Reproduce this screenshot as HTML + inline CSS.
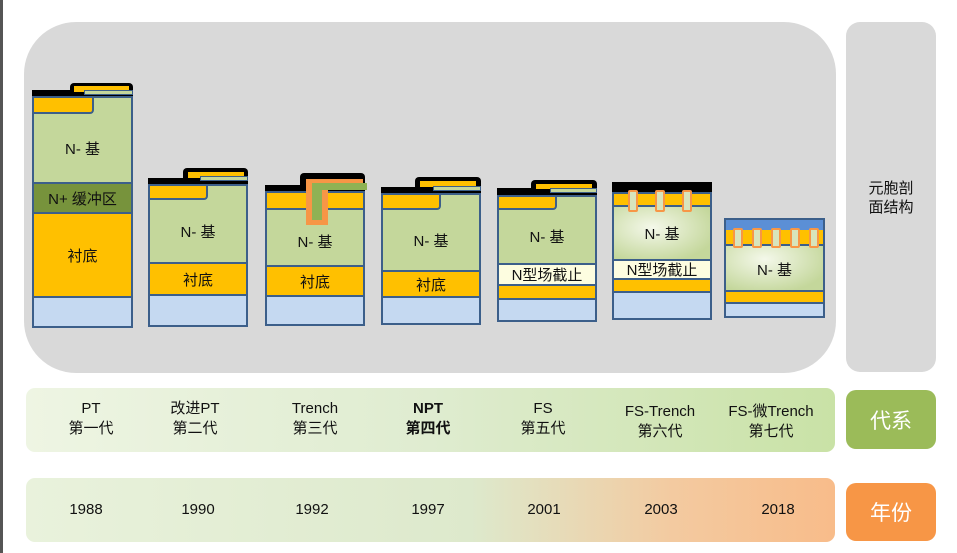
<!DOCTYPE html>
<html><head><meta charset="utf-8"><style>
*{margin:0;padding:0;box-sizing:border-box}
body{width:957px;height:553px;background:#fff;position:relative;overflow:hidden;font-family:"Liberation Sans","Noto Sans CJK SC",sans-serif;color:#111}
div{position:absolute}
.b{border:2px solid #3c5f8a;background:#c4d79b}
.y{background:#ffc000}
.g{background:#c4d79b}
.bl{background:#c5d9f1}
.k{background:#000}
.t{display:flex;align-items:center;justify-content:center;font-size:15px}
.lab{text-align:center;font-size:15px;line-height:20px;width:120px}
</style></head><body>
<div style="left:0;top:0;width:3px;height:553px;background:#555"></div>
<div style="left:24px;top:22px;width:812px;height:351px;background:#d9d9d9;border-radius:52px"></div>
<div style="left:846px;top:22px;width:90px;height:350px;background:#d9d9d9;border-radius:14px"></div>
<div class="t" style="left:846px;top:178px;width:90px;height:40px;font-size:15px;line-height:19px;text-align:center">元胞剖<br>面结构</div>

<!-- Cell 1 -->
<div class="k" style="left:32px;top:90px;width:101px;height:8px"></div>
<div class="k" style="left:70px;top:83px;width:63px;height:15px;border-radius:4px 4px 0 0"></div>
<div class="y" style="left:74px;top:86px;width:55px;height:6px"></div>
<div class="b" style="left:32px;top:96px;width:101px;height:232px"></div>
<div class="y" style="left:34px;top:98px;width:60px;height:16px;border:2px solid #3c5f8a;border-top:0;border-left:0;border-radius:0 0 4px 0"></div>
<div style="left:84px;top:90px;width:49px;height:5px;background:#c4d79b;border:1px solid #3c5f8a"></div>
<div class="t" style="left:34px;top:114px;width:97px;height:68px">N- 基</div>
<div class="t" style="left:34px;top:182px;width:97px;height:30px;background:#77933c;border-top:2px solid #3c5f8a">N+ 缓冲区</div>
<div class="y t" style="left:34px;top:212px;width:97px;height:84px;border-top:2px solid #3c5f8a">衬底</div>
<div class="bl" style="left:34px;top:296px;width:97px;height:30px;border-top:2px solid #3c5f8a"></div>

<!-- Cell 2 -->
<div class="k" style="left:148px;top:178px;width:100px;height:8px"></div>
<div class="k" style="left:183px;top:168px;width:65px;height:18px;border-radius:4px 4px 0 0"></div>
<div class="y" style="left:188px;top:172px;width:56px;height:6px"></div>
<div class="b" style="left:148px;top:184px;width:100px;height:143px"></div>
<div class="y" style="left:150px;top:186px;width:58px;height:14px;border:2px solid #3c5f8a;border-top:0;border-left:0;border-radius:0 0 4px 0"></div>
<div style="left:200px;top:176px;width:48px;height:5px;background:#c4d79b;border:1px solid #3c5f8a"></div>
<div class="t" style="left:150px;top:200px;width:96px;height:62px">N- 基</div>
<div class="y t" style="left:150px;top:262px;width:96px;height:32px;border-top:2px solid #3c5f8a">衬底</div>
<div class="bl" style="left:150px;top:294px;width:96px;height:31px;border-top:2px solid #3c5f8a"></div>

<!-- Cell 3 -->
<div class="k" style="left:265px;top:185px;width:100px;height:8px"></div>
<div class="k" style="left:300px;top:173px;width:65px;height:20px;border-radius:4px 4px 0 0"></div>
<div class="b" style="left:265px;top:191px;width:100px;height:135px"></div>
<div class="y" style="left:267px;top:193px;width:96px;height:15px"></div>
<div class="t" style="left:267px;top:208px;width:96px;height:57px;border-top:2px solid #3c5f8a;padding-top:8px">N- 基</div>
<div class="y t" style="left:267px;top:265px;width:96px;height:30px;border-top:2px solid #3c5f8a">衬底</div>
<div class="bl" style="left:267px;top:295px;width:96px;height:29px;border-top:2px solid #3c5f8a"></div>
<div style="left:306px;top:179px;width:57px;height:10px;background:#f79646"></div>
<div style="left:306px;top:179px;width:22px;height:46px;background:#f79646"></div>
<div style="left:312px;top:183px;width:10px;height:37px;background:#8fb254"></div>
<div style="left:312px;top:183px;width:55px;height:7px;background:#8fb254"></div>

<!-- Cell 4 -->
<div class="k" style="left:381px;top:187px;width:100px;height:8px"></div>
<div class="k" style="left:415px;top:177px;width:66px;height:18px;border-radius:4px 4px 0 0"></div>
<div class="y" style="left:420px;top:181px;width:56px;height:6px"></div>
<div class="b" style="left:381px;top:193px;width:100px;height:132px"></div>
<div class="y" style="left:383px;top:195px;width:58px;height:15px;border:2px solid #3c5f8a;border-top:0;border-left:0;border-radius:0 0 4px 0"></div>
<div style="left:433px;top:186px;width:48px;height:5px;background:#c4d79b;border:1px solid #3c5f8a"></div>
<div class="t" style="left:383px;top:210px;width:96px;height:60px">N- 基</div>
<div class="y t" style="left:383px;top:270px;width:96px;height:26px;border-top:2px solid #3c5f8a">衬底</div>
<div class="bl" style="left:383px;top:296px;width:96px;height:27px;border-top:2px solid #3c5f8a"></div>

<!-- Cell 5 -->
<div class="k" style="left:497px;top:188px;width:100px;height:8px"></div>
<div class="k" style="left:531px;top:180px;width:66px;height:16px;border-radius:4px 4px 0 0"></div>
<div class="y" style="left:536px;top:184px;width:56px;height:5px"></div>
<div class="b" style="left:497px;top:195px;width:100px;height:127px"></div>
<div class="y" style="left:499px;top:197px;width:58px;height:13px;border:2px solid #3c5f8a;border-top:0;border-left:0;border-radius:0 0 4px 0"></div>
<div style="left:550px;top:188px;width:47px;height:5px;background:#c4d79b;border:1px solid #3c5f8a"></div>
<div class="t" style="left:499px;top:210px;width:96px;height:53px">N- 基</div>
<div class="t" style="left:499px;top:263px;width:96px;height:21px;background:#fdfde0;border-top:2px solid #3c5f8a">N型场截止</div>
<div class="y" style="left:499px;top:284px;width:96px;height:14px;border-top:2px solid #3c5f8a"></div>
<div class="bl" style="left:499px;top:298px;width:96px;height:22px;border-top:2px solid #3c5f8a"></div>

<!-- Cell 6 -->
<div class="k" style="left:612px;top:182px;width:100px;height:12px"></div>
<div class="b" style="left:612px;top:192px;width:100px;height:128px"></div>
<div class="y" style="left:614px;top:194px;width:96px;height:11px"></div>
<div class="t" style="left:614px;top:205px;width:96px;height:54px;border-top:2px solid #3c5f8a;background:radial-gradient(ellipse at 40% 40%,#f4f8ea,#c4d79b 80%)">N- 基</div>
<div class="t" style="left:614px;top:259px;width:96px;height:19px;background:#fdfde0;border-top:2px solid #3c5f8a">N型场截止</div>
<div class="y" style="left:614px;top:278px;width:96px;height:13px;border-top:2px solid #3c5f8a"></div>
<div class="bl" style="left:614px;top:291px;width:96px;height:27px;border-top:2px solid #3c5f8a"></div>
<div style="left:628px;top:190px;width:10px;height:22px;background:#d8e4bc;border:2px solid #f79646;border-radius:2px"></div>
<div style="left:655px;top:190px;width:10px;height:22px;background:#d8e4bc;border:2px solid #f79646;border-radius:2px"></div>
<div style="left:682px;top:190px;width:10px;height:22px;background:#d8e4bc;border:2px solid #f79646;border-radius:2px"></div>

<!-- Cell 7 -->
<div class="b" style="left:724px;top:218px;width:101px;height:100px"></div>
<div style="left:726px;top:220px;width:97px;height:10px;background:#5b8fd6"></div>
<div class="y" style="left:726px;top:230px;width:97px;height:14px"></div>
<div class="t" style="left:726px;top:244px;width:97px;height:46px;border-top:2px solid #3c5f8a;background:radial-gradient(ellipse at 40% 30%,#f4f8ea,#c4d79b 80%);padding-top:2px">N- 基</div>
<div class="y" style="left:726px;top:290px;width:97px;height:12px;border-top:2px solid #3c5f8a"></div>
<div class="bl" style="left:726px;top:302px;width:97px;height:14px;border-top:2px solid #3c5f8a"></div>
<div style="left:733px;top:228px;width:10px;height:20px;background:#d8e4bc;border:2px solid #f79646;border-radius:2px"></div>
<div style="left:752px;top:228px;width:10px;height:20px;background:#d8e4bc;border:2px solid #f79646;border-radius:2px"></div>
<div style="left:771px;top:228px;width:10px;height:20px;background:#d8e4bc;border:2px solid #f79646;border-radius:2px"></div>
<div style="left:790px;top:228px;width:10px;height:20px;background:#d8e4bc;border:2px solid #f79646;border-radius:2px"></div>
<div style="left:809px;top:228px;width:10px;height:20px;background:#d8e4bc;border:2px solid #f79646;border-radius:2px"></div>

<!-- Row 2 -->
<div style="left:26px;top:388px;width:809px;height:64px;border-radius:9px;background:linear-gradient(90deg,#eef5e3,#dfecd0 50%,#c9e2a6)"></div>
<div class="t" style="left:846px;top:390px;width:90px;height:59px;background:#9bbb59;border-radius:10px;color:#fff;font-size:21px">代系</div>
<div class="lab" style="left:31px;top:399px">PT<br>第一代</div>
<div class="lab" style="left:135px;top:399px">改进PT<br>第二代</div>
<div class="lab" style="left:255px;top:399px">Trench<br>第三代</div>
<div class="lab" style="left:368px;top:399px;font-weight:bold">NPT<br>第四代</div>
<div class="lab" style="left:483px;top:399px">FS<br>第五代</div>
<div class="lab" style="left:600px;top:402px">FS-Trench<br>第六代</div>
<div class="lab" style="left:711px;top:402px">FS-微Trench<br>第七代</div>

<!-- Row 3 -->
<div style="left:26px;top:478px;width:809px;height:64px;border-radius:9px;background:linear-gradient(90deg,#e9f2dc,#dde9cc 55%,#f3caa0 80%,#f8bc8a)"></div>
<div class="t" style="left:846px;top:483px;width:90px;height:58px;background:#f79646;border-radius:10px;color:#fff;font-size:21px">年份</div>
<div class="lab" style="left:26px;top:500px">1988</div>
<div class="lab" style="left:138px;top:500px">1990</div>
<div class="lab" style="left:252px;top:500px">1992</div>
<div class="lab" style="left:368px;top:500px">1997</div>
<div class="lab" style="left:484px;top:500px">2001</div>
<div class="lab" style="left:601px;top:500px">2003</div>
<div class="lab" style="left:718px;top:500px">2018</div>
</body></html>
